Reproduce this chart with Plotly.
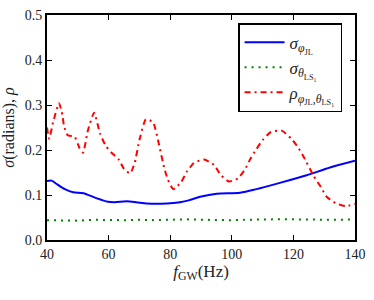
import plotly.graph_objects as go

# --- data ---
f_red = [40, 40.7, 42, 43.9, 45, 45.5, 46.7, 49, 50.5, 51.7, 53.3, 55.3, 57.2, 59, 60.8, 63.4, 65, 67,
         68.5, 70, 72.1, 74.4, 76.4, 78, 79.2, 81, 83.5, 85.4, 87.7, 91, 94.2, 96.5, 99, 102, 104.3,
         106, 108, 110, 112.7, 116.2, 119.2, 121.4, 123.4, 126.7, 128.9, 130.8, 133.7, 137, 140]
rho = [0.25, 0.225, 0.262, 0.304, 0.278, 0.254, 0.233, 0.229, 0.205, 0.194, 0.244, 0.283, 0.237, 0.21,
       0.195, 0.178, 0.158, 0.148, 0.172, 0.222, 0.268, 0.262, 0.211, 0.162, 0.135, 0.113, 0.128,
       0.152, 0.171, 0.179, 0.167, 0.144, 0.13, 0.137, 0.157, 0.18, 0.202, 0.222, 0.240, 0.243,
       0.226, 0.207, 0.184, 0.141, 0.118, 0.096, 0.082, 0.075, 0.08]

f_blue = [40, 41.5, 43, 45.8, 48.5, 51.8, 56, 59.8, 62, 65.9, 69, 72.4, 78.9, 83.2, 86, 89.7, 95.1,
          102.7, 108, 115.6, 124.3, 131.9, 140]
sigma_phi = [0.131, 0.132, 0.125, 0.113, 0.106, 0.104, 0.093, 0.085, 0.084, 0.086, 0.084, 0.081,
             0.081, 0.084, 0.088, 0.096, 0.103, 0.105, 0.113, 0.127, 0.144, 0.161, 0.176]

f_green = [40, 45, 50, 55, 60, 65, 70, 75, 80, 85, 90, 95, 100, 105, 110, 115, 120, 125, 130, 135, 140]
sigma_theta = [0.044, 0.044, 0.043, 0.045, 0.044, 0.044, 0.045, 0.044, 0.045, 0.046, 0.045, 0.044,
               0.044, 0.045, 0.046, 0.046, 0.046, 0.045, 0.045, 0.045, 0.046]

x_ticks = [40, 60, 80, 100, 120, 140]
y_ticks = [0.0, 0.1, 0.2, 0.3, 0.4, 0.5]

names = ["<i>σ</i><sub><i>φ</i><sub>JL</sub></sub>",
         "<i>σ</i><sub><i>θ</i><sub>LS<sub>1</sub></sub></sub>",
         "<i>ρ</i><sub><i>φ</i><sub>JL</sub>,<i>θ</i><sub>LS<sub>1</sub></sub></sub>"]

FONT = "Liberation Serif"

fig = go.Figure()
fig.add_trace(go.Scatter(x=f_blue, y=sigma_phi, mode="lines", name=names[0],
                         line=dict(color="#0000ff", width=2, shape="spline", smoothing=0.8)))
fig.add_trace(go.Scatter(x=f_green, y=sigma_theta, mode="lines", name=names[1],
                         line=dict(color="#008000", width=2, dash="2px,5px")))
fig.add_trace(go.Scatter(x=f_red, y=rho, mode="lines", name=names[2],
                         line=dict(color="#ff0000", width=2, dash="6px,4px,2px,4px",
                                   shape="spline", smoothing=0.5)))

axis_common = dict(showline=True, linecolor="black", linewidth=2, mirror="ticks",
                   ticks="inside", ticklen=5, tickwidth=1, tickcolor="black",
                   showgrid=False, zeroline=False, automargin=False,
                   tickfont=dict(family=FONT, size=14, color="#222"))

fig.update_layout(
    width=374, height=300,
    margin=dict(l=47, r=19, t=15, b=60),
    plot_bgcolor="white", paper_bgcolor="white",
    font=dict(family=FONT, color="#222"),
    showlegend=True,
    legend=dict(x=0.958, y=0.964, xanchor="right", yanchor="top",
                bgcolor="white", bordercolor="black", borderwidth=1.5,
                font=dict(family=FONT, size=17), tracegroupgap=0,
                itemwidth=40),
    xaxis=dict(range=[40, 140], tickvals=x_ticks, ticktext=[str(v) for v in x_ticks],
               title=dict(text="<i>f</i><sub>GW</sub>(Hz)", font=dict(family=FONT, size=17),
                          standoff=4),
               **axis_common),
    yaxis=dict(range=[0, 0.5], tickvals=y_ticks, ticktext=[f"{v:.1f}" for v in y_ticks],
               title=dict(text="<i>σ</i>(radians), <i>ρ</i>", font=dict(family=FONT, size=16),
                          standoff=8),
               **axis_common),
)

fig.write_html("out.html", config={"displayModeBar": False},
               post_script="document.body.style.margin='0px';document.body.style.padding='0px';")
